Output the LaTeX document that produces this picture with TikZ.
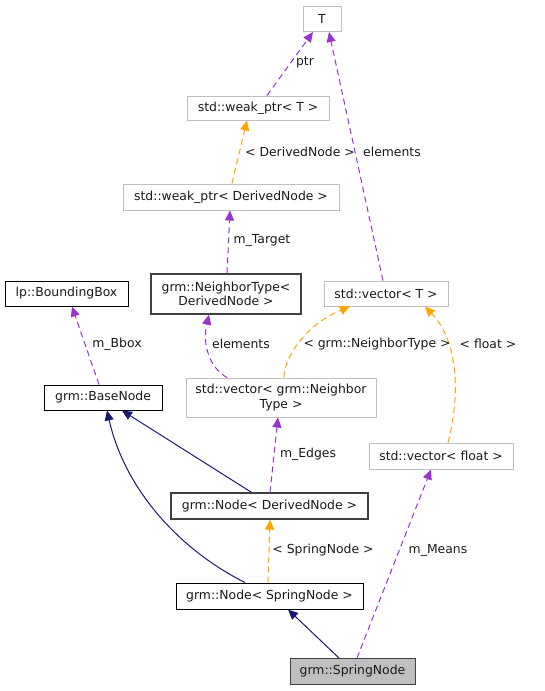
\documentclass[tikz,border=0pt]{standalone}
\usepackage{fontspec}
\setmainfont{DejaVu Sans}
\usetikzlibrary{arrows.meta}
\definecolor{edgepurple}{HTML}{9A32CD}
\definecolor{edgeorange}{HTML}{FFA500}
\definecolor{edgenavy}{HTML}{191970}
\definecolor{boxgray}{HTML}{BFBFBF}
\definecolor{boxdark}{HTML}{404040}
\tikzset{
  cls/.style={draw=black, line width=1pt, inner sep=0pt, align=center, text=black!90,
    font=\fontsize{12.4}{14.7}\selectfont},
  ext/.style={cls, draw=boxgray},
  doc/.style={cls, draw=boxdark, line width=1.3pt},
  self/.style={cls, fill=boxgray, draw=boxdark},
  lbl/.style={text=black!90, font=\fontsize{12.4}{14.7}\selectfont, inner sep=0pt},
  tip/.style={-{Triangle[length=10pt,width=9pt]}},
  member/.style={tip, draw=edgepurple, line width=1pt, dash pattern=on 6pt off 4pt},
  templ/.style={tip, draw=edgeorange, line width=1pt, dash pattern=on 6pt off 4pt},
  inherit/.style={tip, draw=edgenavy, line width=1pt}
}
\begin{document}
\begin{tikzpicture}[x=1pt,y=-1pt]
		%%%%% FRAME %%%%%
		\useasboundingbox (0,0) rectangle (545,691);
		
		%%%%% CLASSES %%%%%
		\node[ext, minimum width=38pt, minimum height=25pt] (T) at (322,19) {T};
		\node[ext, minimum width=142pt, minimum height=24pt] (wpT) at (258,108) {std::weak\_ptr< T >};
		\node[ext, minimum width=216pt, minimum height=26pt] (wpD) at (231,197) {std::weak\_ptr< DerivedNode >};
		\node[cls, minimum width=123pt, minimum height=25pt] (bbox) at (66.5,293.5) {lp::BoundingBox};
		\node[doc, minimum width=150pt, minimum height=40pt] (nbt) at (226,294) {grm::NeighborType<\\DerivedNode >};
		\node[ext, minimum width=124pt, minimum height=25pt] (vecT) at (386,293.5) {std::vector< T >};
		\node[cls, minimum width=118pt, minimum height=25pt] (base) at (103,397.5) {grm::BaseNode};
		\node[ext, minimum width=190pt, minimum height=39pt] (vecN) at (281,397.5) {std::vector< grm::Neighbor\\Type >};
		\node[ext, minimum width=144pt, minimum height=26pt] (vecF) at (441,456) {std::vector< float >};
		\node[doc, minimum width=197pt, minimum height=26pt] (nodeD) at (269.5,506) {grm::Node< DerivedNode >};
		\node[cls, minimum width=187pt, minimum height=26pt] (nodeS) at (269.5,596) {grm::Node< SpringNode >};
		\node[self, minimum width=125pt, minimum height=26pt] (spring) at (352.5,671.5) {grm::SpringNode};
		
		%%%%% MEMBERS %%%%%
		\draw[member] ([xshift=9pt]wpT.north) -- ([xshift=-9pt]T.south);
		\draw[member] ([xshift=-3pt]vecT.north) -- ([xshift=7pt]T.south);
		\draw[member] ([xshift=1pt]nbt.north) -- ([xshift=-1pt]wpD.south);
		\draw[member] ([xshift=-4pt]base.north) -- ([xshift=5.5pt]bbox.south);
		\draw[member] ([xshift=-54pt]vecN.north) .. controls (210,368) and (202,345) .. ([xshift=-17pt]nbt.south);
		\draw[member] ([xshift=0.5pt]nodeD.north) -- ([xshift=-3pt]vecN.south);
		\draw[member] ([xshift=4.5pt]spring.north) -- ([xshift=-10pt]vecF.south);
		
		%%%%% TEMPLATES %%%%%
		\draw[templ] ([xshift=1pt]wpD.north) -- ([xshift=-11pt]wpT.south);
		\draw[templ] ([xshift=3pt]vecN.north) .. controls (284,358) and (305,325) .. ([xshift=-36pt]vecT.south);
		\draw[templ] ([xshift=7pt]vecF.north) .. controls (458,405) and (462,345) .. ([xshift=39pt]vecT.south);
		\draw[templ] ([xshift=-1.5pt]nodeS.north) -- ([xshift=0.5pt]nodeD.south);
		
		%%%%% INHERITANCE %%%%%
		\draw[inherit] ([xshift=-18pt]nodeD.north) -- ([xshift=19pt]base.south);
		\draw[inherit] ([xshift=-24.5pt]nodeS.north) .. controls (180,550) and (125,490) .. ([xshift=4pt]base.south);
		\draw[inherit] ([xshift=-13.5pt]spring.north) -- ([xshift=18.5pt]nodeS.south);
		
		%%%%% LABELS %%%%%
		\node[lbl] (lptr) at (305,62) {ptr};
		\node[lbl] (lelemT) at (392,152) {elements};
		\node[lbl] (lderived) at (300,152) {< DerivedNode >};
		\node[lbl] (ltarget) at (262,240) {m\_Target};
		\node[lbl] (lbbox) at (117,344) {m\_Bbox};
		\node[lbl] (lelemN) at (241,344) {elements};
		\node[lbl] (lneighbor) at (377,344) {< grm::NeighborType >};
		\node[lbl] (lfloat) at (488,344) {< float >};
		\node[lbl] (ledges) at (308,454) {m\_Edges};
		\node[lbl] (lspring) at (323,550) {< SpringNode >};
		\node[lbl] (lmeans) at (438,550) {m\_Means};
		
		%%%%% END %%%%%
	\end{tikzpicture}
\end{document}
